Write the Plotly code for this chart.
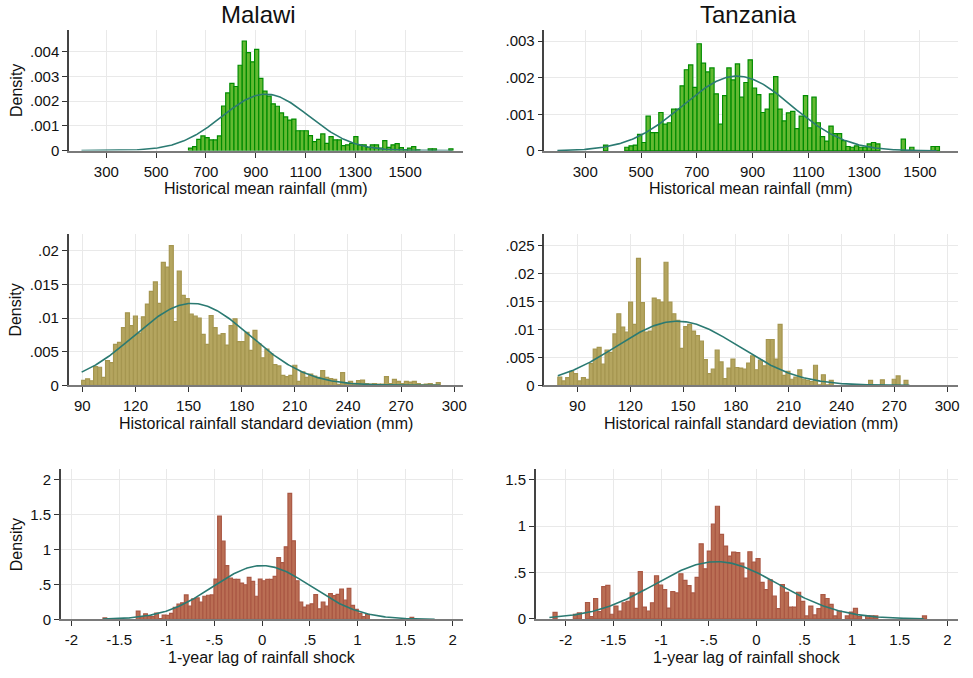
import numpy as np
import plotly.graph_objects as go

W, H = 973, 678

# ---------------- data (densities) ----------------
# Malawi - historical mean rainfall (mm)
mw_mean_start, mw_mean_width = 630.0, 16.6
mw_mean_density = [0.0001, 0.00016, 0.00045, 0.00059, 0.00052, 0.00043, 0.00043, 0.00059,
                   0.0018, 0.00233, 0.00272, 0.00259, 0.00345, 0.00443, 0.00396, 0.00359, 0.00409,
                   0.00292, 0.0024, 0.0022, 0.00189, 0.00179, 0.00152, 0.00136, 0.00123, 0.00127,
                   0.0008, 0.0008, 0.0008, 0.0006, 0.00036, 0.00045, 0.00067, 0.00029, 0.00056, 0.00043,
                   0.00043, 0.0002, 0.00023, 0.00029, 0.00056, 0.00023, 0.00023, 0.00013, 0.00023, 0.00023,
                   0.0001, 0.0004, 0.00013, 0.00023, 0.00028, 0.00012, 0.00003, 0.0001, 0.00016, 0.00003,
                   0, 0, 0.00007, 0.00007, 0, 0, 0, 0.00007]
mw_mean_mu, mw_mean_sd, mw_mean_curve = 940.0, 175.0, (200, 1690)

# Tanzania - historical mean rainfall (mm)
tz_mean_start, tz_mean_width = 365.4, 15.25
tz_mean_density = [0.00016, 0, 0, 0, 0,
                   0.0001, 0.00014, 0.00016, 0.00045, 0.00023, 0.00095, 0.0005, 0.0005, 0.00105, 0.00073,
                   0.00077, 0.00114, 0.00114, 0.00178, 0.00222, 0.00235, 0.00174, 0.00293, 0.0024, 0.00216,
                   0.00227, 0.00156, 0.00073, 0.00151, 0.00227, 0.00194, 0.00238, 0.00147, 0.00187,
                   0.00249, 0.00172, 0.00154, 0.00105, 0.00114, 0.00156, 0.00203, 0.00114, 0.00082, 0.00104,
                   0.00108, 0.00061, 0.00095, 0.00151, 0.00063, 0.00147, 0.00077, 0.00039, 0.00027, 0.00068,
                   0.00047, 0.00047, 0.00028, 0.00012, 0.0001, 0.00014, 0.0001, 0.0001, 0.00019, 0.00023,
                   0.00019, 0, 0, 0, 0, 0, 0.00032, 0, 0.0001, 0, 0, 0, 0, 0.00012, 0.00012]
tz_mean_mu, tz_mean_sd, tz_mean_curve = 844.0, 195.0, (200, 1560)

# Malawi - historical rainfall standard deviation (mm)
mw_sd_start, mw_sd_width = 89.6, 2.25
mw_sd_density = [0.00074, 0.00098, 0.00069, 0.0028, 0.0027, 0.0012, 0.0037, 0.0034, 0.0061, 0.0064,
                 0.0086, 0.0108, 0.0089, 0.0103, 0.0078, 0.0102, 0.0121, 0.014, 0.0154, 0.0122,
                 0.0183, 0.0176, 0.0208, 0.0095, 0.017, 0.0134, 0.0129, 0.0106, 0.0103, 0.01,
                 0.0076, 0.0061, 0.0104, 0.0086, 0.0075, 0.0077, 0.006, 0.0089, 0.0099, 0.0065,
                 0.0065, 0.0079, 0.0052, 0.0082, 0.0062, 0.0041, 0.0054,
                 0.0047, 0.0031, 0.0029, 0.0015, 0.0013, 0.0015, 0.003, 0.0006, 0.002, 0.0012,
                 0.0017, 0.0014, 0.0012, 0.0022, 0.0012, 0.001, 0.0009, 0.00015, 0.0019, 0.00025,
                 0.0006, 0.0003, 0.0007, 0.0008, 0.00025, 0.0002, 0.00025, 0.0002, 0.0002, 0.0013,
                 0.00025, 0.0009, 0.0006, 0.00025, 0.0006, 0.0005, 0.0006, 0.00025, 0.0001, 0.0002,
                 0.00025, 0.0001, 0.0004]
mw_sd_mu, mw_sd_sd, mw_sd_curve = 152.0, 32.7, (89.6, 292)

# Tanzania - historical rainfall standard deviation (mm)
tz_sd_start, tz_sd_width = 78.9, 2.234
tz_sd_density = [0.00147, 0.0008, 0.0014, 0.0025, 0.0021, 0.0008, 0.0014, 0.0011, 0.0039, 0.0065,
                 0.0068, 0.0038, 0.0063, 0.0059, 0.0092, 0.0128, 0.0104, 0.0095, 0.0149, 0.0109,
                 0.0227, 0.0148, 0.0095, 0.0097, 0.0156, 0.0153, 0.0149, 0.022, 0.0149, 0.0128,
                 0.0116, 0.0066, 0.0105, 0.0109, 0.0097, 0.0089, 0.0079, 0.0046, 0.0021, 0.0029,
                 0.0063, 0.0042, 0.0012, 0.0031, 0.0047, 0.0032, 0.0031, 0.0029,
                 0.004, 0.0053, 0.0028, 0.0045, 0.0035, 0.0082, 0.0082, 0.0047, 0.0109, 0.0018, 0.0025,
                 0.0011, 0.0015, 0.0028, 0.0011, 0.0009, 0.0007, 0.0036, 0.0001, 0.0019, 0.0001, 0.0009,
                 0, 0, 0, 0, 0, 0, 0, 0, 0, 0.0009, 0, 0, 0.001, 0, 0, 0.0011, 0.0017, 0, 0.0009]
tz_sd_mu, tz_sd_sd, tz_sd_curve = 146.8, 34.8, (78.9, 278.6)

# Malawi - 1-year lag of rainfall shock
mw_shock_start, mw_shock_width = -1.669, 0.0388
mw_shock_density = [0.02, 0, 0, 0, 0, 0, 0, 0, 0,
                    0.118, 0.038, 0.08, 0.047, 0.038, 0.09, 0.01, 0.061, 0.057, 0.085, 0.17, 0.217, 0.236,
                    0.35, 0.189, 0.293, 0.307, 0.246, 0.331, 0.345, 0.35, 0.577, 1.48, 1.12, 0.77, 0.59,
                    0.572, 0.572, 0.52, 0.496, 0.6, 0.544, 0.331, 0.577, 0.553, 0.572, 0.572, 0.615, 0.884,
                    0.813, 1.04, 1.806, 1.125, 0.553, 0.246, 0.175, 0.203, 0.222, 0.355, 0.151, 0.246,
                    0.189, 0.369, 0.34, 0.359, 0.435, 0.274, 0.444, 0.199, 0.142, 0.085, 0.038, 0.071,
                    0, 0, 0, 0, 0, 0, 0, 0, 0, 0, 0, 0.028]
mw_shock_mu, mw_shock_sd, mw_shock_curve = 0.0, 0.518, (-1.67, 1.81)

# Tanzania - 1-year lag of rainfall shock
tz_shock_start, tz_shock_width = -2.132, 0.04253
tz_shock_density = [0.071, 0, 0, 0, 0, 0.05, 0.064, 0, 0.177, 0.025, 0.22, 0.078, 0.348, 0.362, 0.05,
                    0.138, 0.085, 0.174, 0.19, 0.28, 0.113, 0.51, 0.128, 0.085, 0.174, 0.465, 0.365,
                    0.316, 0.117, 0.294, 0.28, 0.486, 0.415, 0.358, 0.28, 0.447, 0.809, 0.539, 0.73,
                    1.02, 1.213, 0.911, 0.784, 0.677, 0.72, 0.713, 0.6, 0.44,
                    0.723, 0.613, 0.649, 0.394, 0.316, 0.422, 0.245, 0.11, 0.369, 0.287,
                    0.128, 0.128, 0.287, 0.188, 0.032, 0.138, 0.043, 0.11, 0.262, 0.22,
                    0.156, 0.032, 0.085, 0, 0.032, 0.074, 0.113, 0.025, 0, 0.032, 0.032, 0.032,
                    0, 0, 0, 0, 0, 0, 0, 0, 0, 0, 0, 0.032]
tz_shock_mu, tz_shock_sd, tz_shock_curve = -0.417, 0.647, (-2.17, 1.75)

# tick labels
rain_ticks = [300, 500, 700, 900, 1100, 1300, 1500]
sd_ticks = [90, 120, 150, 180, 210, 240, 270, 300]
shock_ticks = [-2, -1.5, -1, -0.5, 0, 0.5, 1, 1.5, 2]
shock_tick_text = ["-2", "-1.5", "-1", "-.5", "0", ".5", "1", "1.5", "2"]
y_mean_mw = ([0, .001, .002, .003, .004], ["0", ".001", ".002", ".003", ".004"])
y_mean_tz = ([0, .001, .002, .003], ["0", ".001", ".002", ".003"])
y_sd_mw = ([0, .005, .01, .015, .02], ["0", ".005", ".01", ".015", ".02"])
y_sd_tz = ([0, .005, .01, .015, .02, .025], ["0", ".005", ".01", ".015", ".02", ".025"])
y_sh_mw = ([0, .5, 1, 1.5, 2], ["0", ".5", "1", "1.5", "2"])
y_sh_tz = ([0, .5, 1, 1.5], ["0", ".5", "1", "1.5"])

titles = ["Malawi", "Tanzania"]
x_titles = ["Historical mean rainfall (mm)", "Historical rainfall standard deviation (mm)",
            "1-year lag of rainfall shock"]

# ---------------- styling ----------------
FONT = "Liberation Sans, Arial, sans-serif"
GREEN = dict(fill="rgb(100,185,50)", line="rgb(0,140,0)")
KHAKI = dict(fill="rgb(180,165,95)", line="rgb(165,150,80)")
RED = dict(fill="rgb(186,110,84)", line="rgb(170,88,68)")
CURVE = "#2b7a72"
TICK_SIZE = 15
AXTITLE_SIZE = 16

panels = [
    dict(start=mw_mean_start, width=mw_mean_width, dens=mw_mean_density, mu=mw_mean_mu, sd=mw_mean_sd,
         curve=mw_mean_curve, sty=GREEN, dx=(69.3, 465), dy=(30, 152.3), xr=(150, 1733), yr=(0, 0.00489),
         xt=(rain_ticks, [str(t) for t in rain_ticks]), yt=y_mean_mw),
    dict(start=tz_mean_start, width=tz_mean_width, dens=tz_mean_density, mu=tz_mean_mu, sd=tz_mean_sd,
         curve=tz_mean_curve, sty=GREEN, dx=(546.7, 961.7), dy=(30, 152.7), xr=(153.6, 1635.7), yr=(0, 0.003316),
         xt=(rain_ticks, [str(t) for t in rain_ticks]), yt=y_mean_tz),
    dict(start=mw_sd_start, width=mw_sd_width, dens=mw_sd_density, mu=mw_sd_mu, sd=mw_sd_sd,
         curve=mw_sd_curve, sty=KHAKI, dx=(69, 465), dy=(236.7, 390), xr=(82.3, 305), yr=(0, 0.02254),
         xt=(sd_ticks, [str(t) for t in sd_ticks]), yt=y_sd_mw),
    dict(start=tz_sd_start, width=tz_sd_width, dens=tz_sd_density, mu=tz_sd_mu, sd=tz_sd_sd,
         curve=tz_sd_curve, sty=KHAKI, dx=(546.7, 961.7), dy=(236.7, 390), xr=(71.3, 306), yr=(0, 0.02706),
         xt=(sd_ticks, [str(t) for t in sd_ticks]), yt=y_sd_tz),
    dict(start=mw_shock_start, width=mw_shock_width, dens=mw_shock_density, mu=mw_shock_mu, sd=mw_shock_sd,
         curve=mw_shock_curve, sty=RED, dx=(61, 465), dy=(475, 626.7), xr=(-2.112, 2.108), yr=(0, 2.15),
         xt=(shock_ticks, shock_tick_text), yt=y_sh_mw),
    dict(start=tz_shock_start, width=tz_shock_width, dens=tz_shock_density, mu=tz_shock_mu, sd=tz_shock_sd,
         curve=tz_shock_curve, sty=RED, dx=(538, 961.7), dy=(475, 626.3), xr=(-2.3125, 2.108), yr=(0, 1.61),
         xt=(shock_ticks, shock_tick_text), yt=y_sh_tz),
]

fig = go.Figure()
layout = dict(width=W, height=H, margin=dict(l=0, r=0, t=0, b=0), showlegend=False,
              paper_bgcolor="white", plot_bgcolor="white", font=dict(family=FONT, color="#111"))

for i, p in enumerate(panels, start=1):
    xa, ya = f"x{i}", f"y{i}"
    n = len(p["dens"])
    centers = [p["start"] + p["width"] * (k + 0.5) for k in range(n)]
    vals = [v if v > 0 else None for v in p["dens"]]
    fig.add_trace(go.Bar(x=centers, y=vals, width=p["width"], xaxis=xa, yaxis=ya,
                         marker=dict(color=p["sty"]["fill"], line=dict(color=p["sty"]["line"], width=1.2))))
    xs = np.linspace(p["curve"][0], p["curve"][1], 300)
    ys = np.exp(-0.5 * ((xs - p["mu"]) / p["sd"]) ** 2) / (p["sd"] * np.sqrt(2 * np.pi))
    fig.add_trace(go.Scatter(x=xs, y=ys, mode="lines", xaxis=xa, yaxis=ya,
                             line=dict(color=CURVE, width=1.6), hoverinfo="skip"))
    suffix = "" if i == 1 else str(i)
    layout["xaxis" + suffix] = dict(
        domain=[p["dx"][0] / W, p["dx"][1] / W], range=list(p["xr"]), anchor=ya,
        tickmode="array", tickvals=p["xt"][0], ticktext=p["xt"][1],
        showgrid=True, gridcolor="#e9e9e9", gridwidth=1, zeroline=False,
        showline=True, linecolor="#7a7a7a", linewidth=2,
        ticks="outside", ticklen=5, tickcolor="#333", tickwidth=1,
        tickfont=dict(size=TICK_SIZE, family=FONT, color="#111"), ticklabelstandoff=1)
    layout["yaxis" + suffix] = dict(
        domain=[1 - p["dy"][1] / H, 1 - p["dy"][0] / H], range=list(p["yr"]), anchor=xa,
        tickmode="array", tickvals=p["yt"][0], ticktext=p["yt"][1],
        showgrid=True, gridcolor="#e9e9e9", gridwidth=1, zeroline=False,
        showline=True, linecolor="#444", linewidth=1.5,
        ticks="outside", ticklen=5, tickcolor="#333", tickwidth=1,
        tickfont=dict(size=TICK_SIZE, family=FONT, color="#111"))

annotations = []
title_x = [260, 752]
for j, name in enumerate(titles):
    annotations.append(dict(text=name, x=title_x[j] / W, y=1 - 15 / H,
                            xref="paper", yref="paper", showarrow=False,
                            font=dict(size=24, family=FONT, color="#111"), xanchor="center", yanchor="middle"))
title_y = [191, 429, 665]
for r in range(3):
    for c in range(2):
        p = panels[2 * r + c]
        annotations.append(dict(text=x_titles[r], x=(p["dx"][0] + p["dx"][1]) / 2 / W, y=1 - title_y[r] / H,
                                xref="paper", yref="paper", showarrow=False,
                                font=dict(size=AXTITLE_SIZE, family=FONT, color="#111"),
                                xanchor="center", yanchor="middle", borderpad=0))
    p = panels[2 * r]
    annotations.append(dict(text="Density", x=16 / W, y=1 - (p["dy"][0] + p["dy"][1]) / 2 / H,
                            xref="paper", yref="paper", showarrow=False, textangle=-90,
                            font=dict(size=AXTITLE_SIZE, family=FONT, color="#111"),
                            xanchor="center", yanchor="middle"))
layout["annotations"] = annotations
fig.update_layout(**layout)
fig.write_html("out.html")
